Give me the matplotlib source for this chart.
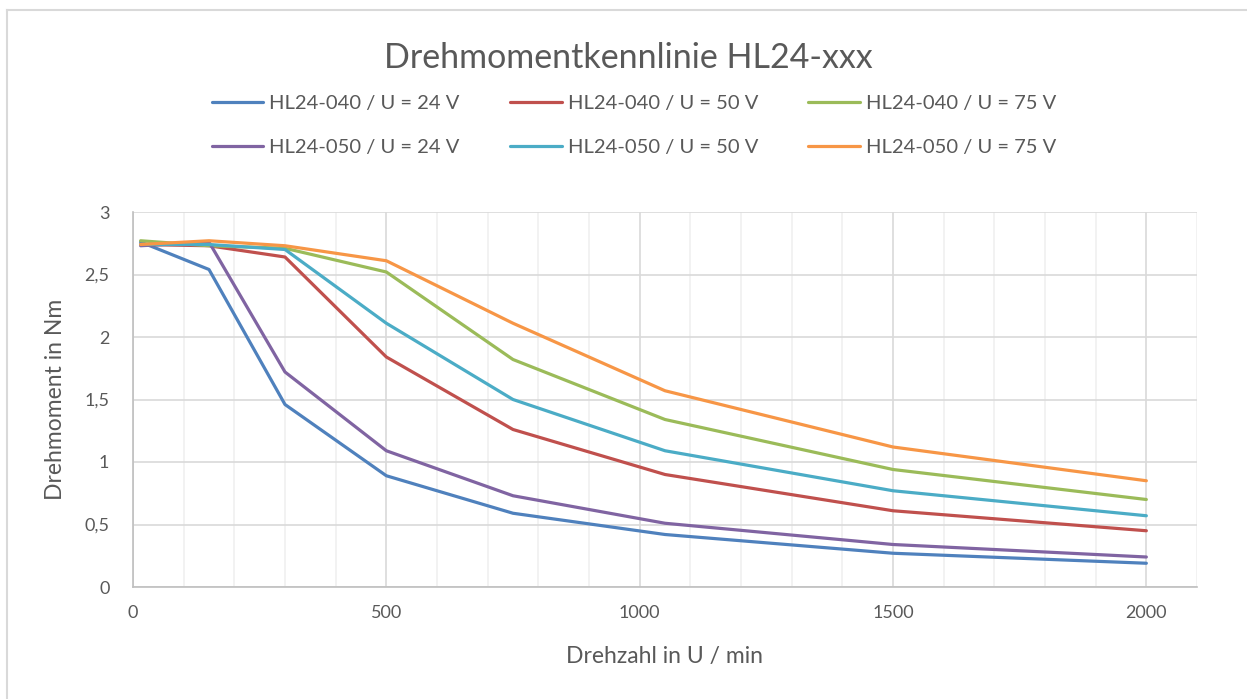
import matplotlib

matplotlib.use("Agg")
import matplotlib.pyplot as plt
from matplotlib.lines import Line2D
from matplotlib.ticker import MultipleLocator, FuncFormatter

# --------------------------------------------------------------------------
# DATA
# --------------------------------------------------------------------------
DREHZAHL = [15, 150, 300, 500, 750, 1050, 1500, 2000]

HL040_24V = [2.76, 2.54, 1.46, 0.89, 0.59, 0.42, 0.27, 0.19]
HL040_50V = [2.74, 2.73, 2.64, 1.84, 1.26, 0.90, 0.61, 0.45]
HL040_75V = [2.77, 2.73, 2.71, 2.52, 1.82, 1.34, 0.94, 0.70]
HL050_24V = [2.73, 2.76, 1.72, 1.09, 0.73, 0.51, 0.34, 0.24]
HL050_50V = [2.74, 2.74, 2.70, 2.11, 1.50, 1.09, 0.77, 0.57]
HL050_75V = [2.74, 2.77, 2.73, 2.61, 2.11, 1.57, 1.12, 0.85]

LABELS = [
    "HL24-040 / U = 24 V", "HL24-040 / U = 50 V", "HL24-040 / U = 75 V",
    "HL24-050 / U = 24 V", "HL24-050 / U = 50 V", "HL24-050 / U = 75 V",
]
SERIES = [HL040_24V, HL040_50V, HL040_75V, HL050_24V, HL050_50V, HL050_75V]
COLORS = ["#4F81BD", "#C0504D", "#9BBB59", "#8064A2", "#4BACC6", "#F79646"]

TITLE = "Drehmomentkennlinie HL24-xxx"
XLABEL = "Drehzahl in U / min"
YLABEL = "Drehmoment in Nm"

# --------------------------------------------------------------------------
# STYLE
# --------------------------------------------------------------------------
FONT = ["Lato", "DejaVu Sans"]
INK = "#595959"
MAJOR_GRID = "#D9D9D9"
MINOR_GRID = "#F0F0F0"
AXIS = "#BFBFBF"
W, H = 1247, 699

plt.rcParams["font.family"] = FONT


def de_comma(v, _pos):
    # Excel (German locale) shows decimal commas
    s = f"{v:g}"
    return s.replace(".", ",")


def main() -> None:
    fig = plt.figure(figsize=(W / 100, H / 100), dpi=100, facecolor="white")
    ax = fig.add_axes([133 / W, 1 - 587 / H, (1197 - 133) / W, (587 - 212) / H])

    lines = []
    for vals, col, lab in zip(SERIES, COLORS, LABELS):
        (ln,) = ax.plot(DREHZAHL, vals, color=col, linewidth=2.3, label=lab,
                        solid_capstyle="round", solid_joinstyle="round", zorder=3)
        lines.append(ln)

    ax.set_xlim(0, 2100)
    ax.set_ylim(0, 3)
    ax.xaxis.set_major_locator(MultipleLocator(500))
    ax.xaxis.set_minor_locator(MultipleLocator(100))
    ax.yaxis.set_major_locator(MultipleLocator(0.5))
    ax.yaxis.set_major_formatter(FuncFormatter(de_comma))

    ax.grid(True, which="minor", axis="x", color=MINOR_GRID, linewidth=1.2)
    ax.grid(True, which="major", axis="both", color=MAJOR_GRID, linewidth=1.2)
    ax.set_axisbelow(True)

    for side in ("top", "right"):
        ax.spines[side].set_visible(False)
    for side in ("left", "bottom"):
        ax.spines[side].set_color(AXIS)
        ax.spines[side].set_linewidth(1.2)

    ax.tick_params(which="both", length=0, colors=INK, labelsize=13)
    ax.tick_params(axis="x", pad=13)
    ax.tick_params(axis="y", pad=17)

    ax.set_xlabel(XLABEL, color=INK, fontsize=16.5, labelpad=18)
    ax.set_ylabel(YLABEL, color=INK, fontsize=16.5, labelpad=13)

    fig.text(628 / W, 1 - 58 / H, TITLE, ha="center", va="center",
             color=INK, fontsize=24.5)

    # legend: two rows, 040 on top, 050 below -> column-major ordering
    order = [0, 3, 1, 4, 2, 5]
    fig.legend([lines[i] for i in order], [LABELS[i] for i in order],
               ncol=3, loc="center", bbox_to_anchor=(634 / W, 1 - 125.5 / H),
               frameon=False, fontsize=14.5, labelcolor=INK,
               handlelength=2.55, handletextpad=0.3, columnspacing=2.5,
               labelspacing=1.32)

    # chart-area frame (top and left edges visible in the crop)
    fig.add_artist(Line2D([7 / W, 1], [1 - 10 / H, 1 - 10 / H],
                          transform=fig.transFigure, color=MAJOR_GRID, linewidth=1.5))
    fig.add_artist(Line2D([7 / W, 7 / W], [0, 1 - 10 / H],
                          transform=fig.transFigure, color=MAJOR_GRID, linewidth=1.5))

    fig.savefig("out.png", dpi=100, facecolor="white")
    plt.close(fig)


if __name__ == "__main__":
    main()
